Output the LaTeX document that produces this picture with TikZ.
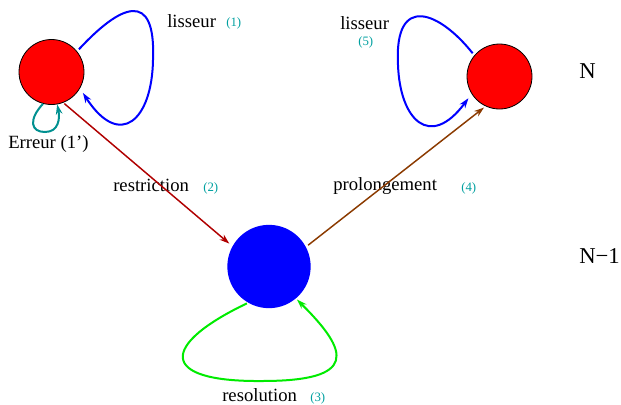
\documentclass[tikz,border=0pt]{standalone}
\usepackage{fontspec}
\setmainfont{Liberation Serif}
\usepackage{tikz}
\usetikzlibrary{arrows.meta,positioning}
\definecolor{gridred}{RGB}{255,0,0}
\definecolor{gridblue}{RGB}{0,0,255}
\definecolor{restrred}{RGB}{176,0,0}
\definecolor{prolbrown}{RGB}{139,58,0}
\definecolor{errteal}{RGB}{0,144,144}
\definecolor{numteal}{RGB}{0,160,160}
\definecolor{resgreen}{RGB}{0,235,0}

\begin{document}
\begin{tikzpicture}[
      x=0.75pt, y=-0.75pt,
      fine/.style={circle, draw=black, line width=0.6pt, fill=gridred, minimum size=48.75pt, inner sep=0pt},
      coarse/.style={circle, fill=gridblue, minimum size=62.5pt, inner sep=0pt},
      lbl/.style={anchor=base west, inner sep=0pt, font=\fontsize{14}{16}\selectfont},
      num/.style={anchor=base west, inner sep=0pt, text=numteal, font=\fontsize{9.6}{11}\selectfont},
      lvl/.style={anchor=base west, inner sep=0pt, font=\fontsize{17}{20}\selectfont},
      tip/.style={-{Stealth[length=7.5pt, width=5pt]}},
      loop/.style={tip, line width=1.5pt, draw=gridblue},
    ]
    \useasboundingbox (0,0) rectangle (621,404);

    % grid levels
    \node[fine] (fineL) at (51.5,72) {};
    \node[fine] (fineR) at (499.5,76.5) {};
    \node[coarse] (crs) at (269,266.5) {};

    \node[lvl] (levN) at (579,78) {N};
    \node[lvl] (levNm) at (579,263) {N−1};

    % labels
    \node[lbl] (lis1) at (167,27) {lisseur};
    \node[num] (lis1n) at (226,26) {(1)};
    \node[lbl] (lis5) at (340,29) {lisseur};
    \node[num] (lis5n) at (358,45) {(5)};
    \node[lbl] (err) at (8,148) {Erreur (1’)};
    \node[lbl] (restr) at (113,191) {restriction};
    \node[num] (restrn) at (203,191) {(2)};
    \node[lbl] (prol) at (333,190) {prolongement};
    \node[num] (proln) at (461,191) {(4)};
    \node[lbl] (reso) at (222,401) {resolution};
    \node[num] (reson) at (310,401) {(3)};

    % transfers
    \draw[tip, line width=1.1pt, draw=restrred, shorten <=1pt, shorten >=3pt] (fineL.-69) -- (crs.151);
    \draw[tip, line width=1.1pt, draw=prolbrown, shorten <=2pt, shorten >=1.5pt] (crs.28) -- (fineR.-115);

    % smoothers and solver
    \draw[loop, shorten <=2pt, shorten >=4pt] (fineL.39)
      .. controls (120,5) and (156,-12) .. (153,60)
      .. controls (152,120) and (120,150) .. (fineL.-30);
    \draw[loop, shorten <=2pt, shorten >=4pt] (fineR.140)
      .. controls (440,12) and (394,-8) .. (398,65)
      .. controls (400,120) and (430,150) .. (fineR.-148);
    \draw[tip, line width=1.5pt, draw=errteal] (fineL.-105)
      .. controls (28,120) and (31,132) .. (45,132)
      .. controls (59,132) and (60,118) .. (fineL.-80);
    \draw[tip, line width=1.5pt, draw=resgreen, shorten <=1pt, shorten >=1pt] (crs.-120)
      .. controls (160,345) and (158,382) .. (262,381)
      .. controls (358,381) and (350,352) .. (crs.-50);
  \end{tikzpicture}
\end{document}
